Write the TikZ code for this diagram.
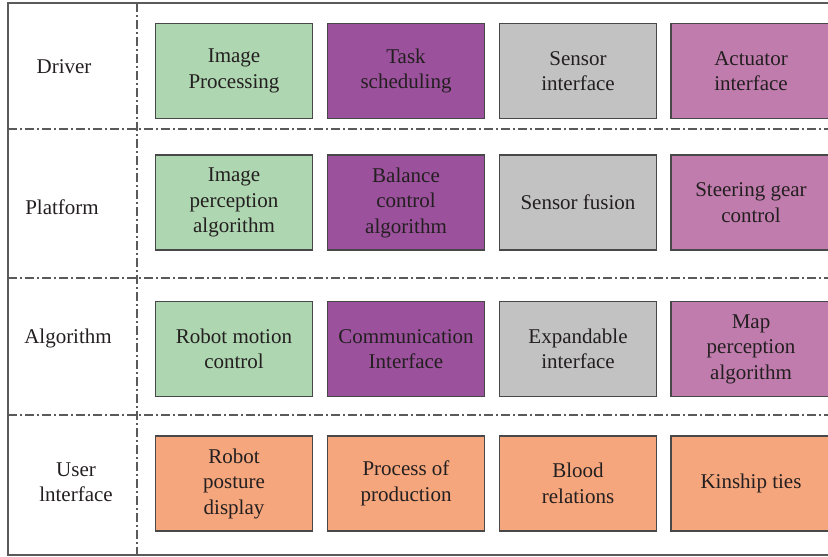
\documentclass[tikz,border=0pt]{standalone}
\usepackage{fontspec}
\setmainfont{Liberation Serif}
\definecolor{cgreen}{HTML}{AED6B0}
\definecolor{cpurple}{HTML}{9B519C}
\definecolor{cgray}{HTML}{C2C2C2}
\definecolor{cpink}{HTML}{C17CAE}
\definecolor{corange}{HTML}{F5A67C}
\definecolor{ctext}{HTML}{231F20}
\definecolor{cline}{HTML}{5A5A5A}
\tikzset{
  cell/.style={draw=cline!80!black, line width=1.3pt, minimum width=157pt, minimum height=95pt,
    inner sep=0pt, align=center, text=ctext, font=\fontsize{21}{25.5}\selectfont},
  rowlabel/.style={align=center, text=ctext, font=\fontsize{21}{25.5}\selectfont},
  sep/.style={draw=cline, line width=1.1pt, dash pattern=on 9pt off 3pt on 2pt off 3pt},
  frame/.style={draw=cline, line width=1.1pt}
}
\begin{document}
\begin{tikzpicture}[x=1pt,y=-1pt]
\useasboundingbox (0,0) rectangle (828,557);
% frame
\coordinate (tl) at (8,3);
\coordinate (tr) at (840,3);
\coordinate (bl) at (8,555);
\coordinate (br) at (840,555);
\draw[frame] (tr) -- (tl) -- (bl) -- (br);
% separators
\coordinate (v1) at (137,3);
\coordinate (v2) at (137,555);
\draw[sep] (v1) -- (v2);
\foreach \y/\n in {129/a,278/b,415/c}{
  \coordinate (h\n l) at (8,\y);
  \coordinate (h\n r) at (840,\y);
  \draw[sep] (h\n l) -- (h\n r);
}
% row labels
\node[rowlabel] (l1) at (64,67) {Driver};
\node[rowlabel] (l2) at (62,207) {Platform};
\node[rowlabel] (l3) at (68,338) {Algorithm};
\node[rowlabel] (l4) at (76,482) {User\\lnterface};
% row 1
\node[cell, fill=cgreen]  (a1) at (234,71) {Image\\Processing};
\node[cell, fill=cpurple] (a2) at (406,71) {Task\\scheduling};
\node[cell, fill=cgray]   (a3) at (578,71) {Sensor\\interface};
\node[cell, fill=cpink, minimum width=160pt, xshift=1pt]   (a4) at (750,71) {Actuator\\interface};
% row 2
\node[cell, fill=cgreen]  (b1) at (234,202.5) {Image\\perception\\algorithm};
\node[cell, fill=cpurple] (b2) at (406,202.5) {Balance\\control\\algorithm};
\node[cell, fill=cgray]   (b3) at (578,202.5) {Sensor fusion};
\node[cell, fill=cpink, minimum width=160pt, xshift=1pt]   (b4) at (750,202.5) {Steering gear\\control};
% row 3
\node[cell, fill=cgreen]  (c1) at (234,349) {Robot motion\\control};
\node[cell, fill=cpurple] (c2) at (406,349) {Communication\\Interface};
\node[cell, fill=cgray]   (c3) at (578,349) {Expandable\\interface};
\node[cell, fill=cpink, minimum width=160pt, xshift=1pt]   (c4) at (750,349) {Map\\perception\\algorithm};
% row 4
\node[cell, fill=corange] (d1) at (234,483.5) {Robot\\posture\\display};
\node[cell, fill=corange] (d2) at (406,483.5) {Process of\\production};
\node[cell, fill=corange] (d3) at (578,483.5) {Blood\\relations};
\node[cell, fill=corange, minimum width=160pt, xshift=1pt] (d4) at (750,483.5) {Kinship ties};
\end{tikzpicture}
\end{document}
